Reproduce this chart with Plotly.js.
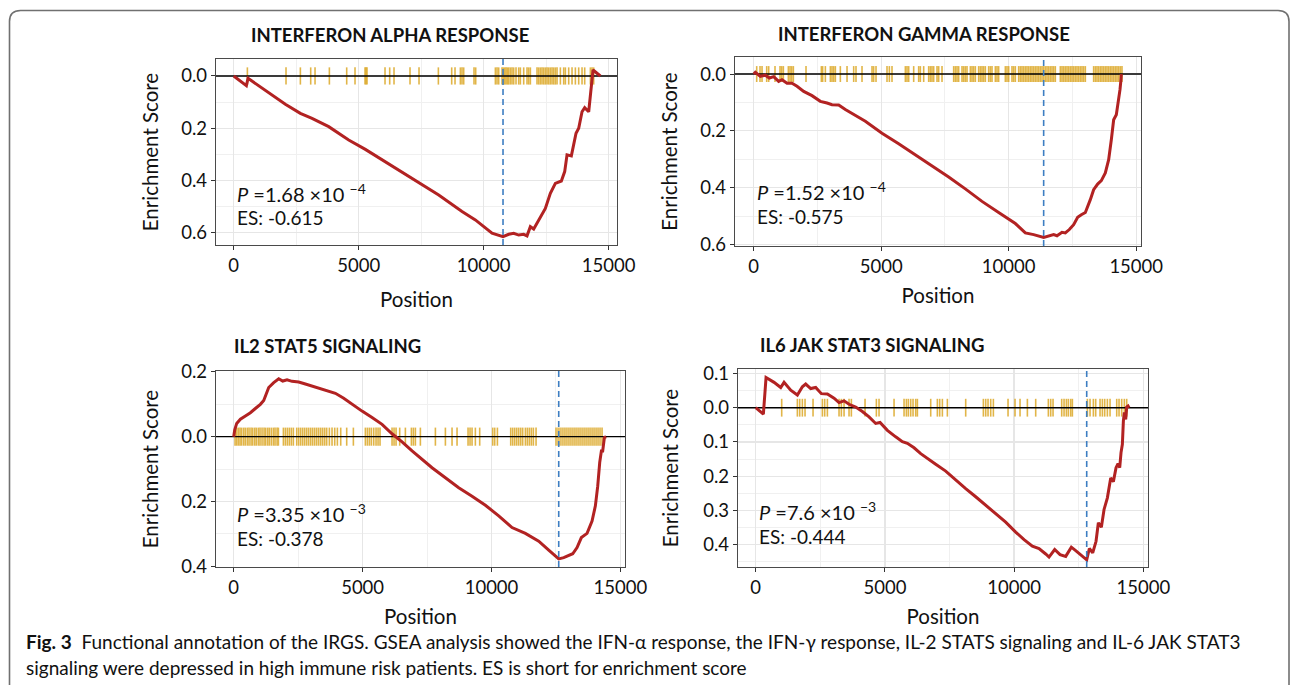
<!DOCTYPE html>
<html>
<head>
<meta charset="utf-8">
<script src="https://cdn.plot.ly/plotly-3.0.1.min.js"></script>
<style>
html,body{margin:0;padding:0;background:#ffffff;}
#chart{width:1290px;height:685px;}
</style>
</head>
<body>
<div id="chart"></div>
<script>
// ---------------- DATA ----------------
const panelTitles = ['INTERFERON ALPHA RESPONSE', 'INTERFERON GAMMA RESPONSE', 'IL2 STAT5 SIGNALING', 'IL6 JAK STAT3 SIGNALING'];
const pMantissa = ['1.68', '1.52', '3.35', '7.6'];
const pExponent = ['\u22124', '\u22124', '\u22123', '\u22123'];
const esLabels = ['-0.615', '-0.575', '-0.378', '-0.444'];

// Running enrichment score curves (position, ES)
const alphaPos = [0,507,573,2066,2666,3133,3800,4600,5266,6066,7133,8200,9133,9666,10333,10773,11000,11200,11400,11600,11733,11866,12000,12133,12266,12466,12666,12866,13106,13240,13333,13506,13693,13800,13933,14040,14200,14280,14333,14373,14666];
const alphaES = [0,-0.037,-0.009,-0.108,-0.143,-0.162,-0.194,-0.245,-0.281,-0.328,-0.392,-0.456,-0.519,-0.551,-0.602,-0.615,-0.606,-0.602,-0.609,-0.606,-0.612,-0.577,-0.586,-0.564,-0.539,-0.507,-0.449,-0.411,-0.402,-0.366,-0.302,-0.306,-0.219,-0.200,-0.137,-0.121,-0.137,-0.060,-0.003,0.023,0];

const gammaPos = [0,65,261,457,614,784,980,1111,1307,1503,1699,1961,2287,2614,2875,3071,3333,3594,4378,5032,5685,6339,6992,7646,8299,8953,9606,10260,10652,10979,11371,11567,11763,11894,12090,12220,12377,12547,12704,12848,13005,13201,13331,13488,13632,13789,13920,14024,14116,14220,14312,14364,14403,14416];
const gammaES = [0,0.006,-0.008,-0.004,-0.014,-0.009,-0.026,-0.020,-0.032,-0.032,-0.043,-0.061,-0.076,-0.096,-0.102,-0.108,-0.109,-0.125,-0.166,-0.208,-0.245,-0.284,-0.322,-0.362,-0.404,-0.448,-0.487,-0.526,-0.559,-0.565,-0.575,-0.571,-0.565,-0.569,-0.557,-0.559,-0.547,-0.530,-0.504,-0.495,-0.487,-0.442,-0.407,-0.387,-0.375,-0.348,-0.301,-0.231,-0.161,-0.143,-0.090,-0.055,-0.020,0];

const il2Pos = [0,39,116,259,453,647,840,1034,1164,1254,1358,1552,1746,1901,2069,2263,2521,2780,3039,3297,3620,3944,4267,4590,4978,5366,5754,6142,6530,6918,7305,7693,8211,8728,9245,9762,10279,10796,11314,11831,12219,12607,12801,12969,13150,13318,13486,13706,13900,14029,14120,14197,14262,14313,14378,14443];
const il2ES = [0,0.021,0.041,0.054,0.064,0.074,0.087,0.100,0.112,0.131,0.152,0.167,0.179,0.172,0.176,0.171,0.169,0.163,0.157,0.151,0.143,0.134,0.119,0.100,0.079,0.059,0.038,0.009,-0.016,-0.044,-0.070,-0.096,-0.127,-0.158,-0.184,-0.212,-0.245,-0.281,-0.299,-0.323,-0.351,-0.378,-0.374,-0.369,-0.362,-0.343,-0.312,-0.299,-0.261,-0.214,-0.153,-0.080,-0.044,-0.044,-0.003,0];

const il6Pos = [0,297,400,710,968,1097,1355,1613,1806,1935,2129,2322,2541,2774,3032,3225,3419,3612,3870,4128,4386,4644,4812,5096,5418,5676,5870,6128,6386,6644,6966,7353,7740,8127,8514,8901,9288,9675,10062,10385,10707,10965,11223,11352,11571,11778,11997,12216,12384,12578,12810,12913,13042,13171,13261,13377,13481,13610,13739,13842,13945,14022,14087,14138,14190,14229,14267,14319,14358,14409,14448];
const il6ES = [0,-0.019,0.088,0.074,0.059,0.074,0.051,0.037,0.061,0.069,0.056,0.059,0.041,0.040,0.028,0.015,0.020,0.010,0.002,-0.011,-0.027,-0.046,-0.043,-0.066,-0.085,-0.099,-0.104,-0.117,-0.134,-0.149,-0.165,-0.185,-0.211,-0.236,-0.260,-0.284,-0.310,-0.334,-0.363,-0.385,-0.404,-0.411,-0.427,-0.436,-0.414,-0.429,-0.434,-0.407,-0.417,-0.429,-0.444,-0.411,-0.424,-0.390,-0.336,-0.349,-0.297,-0.263,-0.205,-0.216,-0.175,-0.163,-0.175,-0.131,-0.107,-0.039,-0.014,-0.034,0.002,0.005,0];

// Gene-set hit positions (rug)
const alphaHits = [547,2093,2667,3080,3253,3827,4520,4853,5253,5293,5333,6053,6240,6413,7053,7413,8187,8720,8853,9067,9133,9200,9613,9680,10467,10533,10600,10733,10787,10840,10893,10947,11000,11067,11133,11200,11293,11400,11467,11600,11733,11800,11867,12133,12200,12267,12333,12400,12467,12533,12600,12667,12733,12800,12867,12933,13067,13200,13267,13400,13533,13667,13800,13933,14040,14267,14333,14400];

const gammaHits = [118,248,327,510,588,836,1033,1098,1163,1359,1425,1490,1555,2052,2653,2705,2810,3006,3071,3137,3202,3398,3660,3921,4012,4248,4640,4705,4797,5228,5320,5424,5947,6012,6078,6274,6470,6535,6666,6862,6927,6992,7058,7189,7254,7385,7842,7907,7973,8038,8169,8234,8299,8365,8496,8561,8626,8692,8822,8888,8953,9018,9084,9214,9280,9345,9476,9541,9606,9868,9933,9999,10129,10195,10260,10391,10456,10521,10587,10652,10717,10783,10848,10913,10979,11044,11110,11175,11240,11306,11371,11436,11502,11567,11632,11698,11763,11828,12024,12090,12155,12220,12286,12351,12416,12482,12547,12612,12678,12743,12809,12874,12939,13005,13331,13397,13462,13527,13593,13658,13724,13789,13854,13920,13985,14050,14116,14181,14246,14312,14377,14442];

const il2Hits = [52,116,181,246,310,388,453,530,595,672,737,815,879,957,1021,1099,1177,1241,1319,1384,1461,1539,1603,1681,1733,1927,2004,2082,2159,2237,2314,2444,2521,2599,2677,2754,2832,2909,2987,3064,3142,3220,3297,3375,3452,3530,3607,3711,3814,3918,4021,4151,4383,4642,5107,5185,5263,5340,5431,5521,5599,5676,6142,6219,6297,6439,6659,6892,6969,7047,7241,7823,8211,8469,8663,9090,9167,9245,9374,9542,10047,10124,10228,10745,10822,10900,10978,11055,11133,11210,11314,11391,11469,11546,11624,11728,12503,12581,12658,12736,12814,12891,12969,13046,13124,13202,13279,13357,13434,13512,13590,13667,13745,13822,13900,13977,14055,14132,14210,14288];

const il6Hits = [1006,1613,1703,1806,1909,2219,2580,2670,2774,3225,3315,3419,3612,3702,4231,4670,4773,5354,5741,5831,5908,5999,6089,6192,6257,6773,7031,7121,7224,7418,8127,8811,8901,8991,9095,9198,9765,10036,10230,10514,10836,11326,11417,11507,11842,11933,12023,12100,12191,12255,12836,12939,13068,13158,13326,13416,13506,13610,13713,13971,14061,14164,14267,14358];

// Axis ticks
const xTicks = [0, 5000, 10000, 15000];
const xTickLabels = ['0', '5000', '10000', '15000'];
const xMinorTicks = [2500, 7500, 12500];
const alphaYTicks = [0, -0.2, -0.4, -0.6];
const alphaYLabels = ['0.0', '0.2', '0.4', '0.6'];
const alphaYMinor = [-0.1, -0.3, -0.5];
const gammaYTicks = [0, -0.2, -0.4, -0.6];
const gammaYLabels = ['0.0', '0.2', '0.4', '0.6'];
const gammaYMinor = [-0.1, -0.3, -0.5];
const il2YTicks = [0.2, 0, -0.2, -0.4];
const il2YLabels = ['0.2', '0.0', '0.2', '0.4'];
const il2YMinor = [0.1, -0.1, -0.3];
const il6YTicks = [0.1, 0, -0.1, -0.2, -0.3, -0.4];
const il6YLabels = ['0.1', '0.0', '0.1', '0.2', '0.3', '0.4'];
const il6YMinor = [0.05, -0.05, -0.15, -0.25, -0.35, -0.45];

const caption1 = '<b>Fig. 3</b>  Functional annotation of the IRGS. GSEA analysis showed the IFN-\u03b1 response, the IFN-\u03b3 response, IL-2 STATS signaling and IL-6 JAK STAT3';
const caption2 = 'signaling were depressed in high immune risk patients. ES is short for enrichment score';

// ---------------- STYLE / LAYOUT ----------------
const W = 1290, H = 685;
const FONT = 'Lato, "Open Sans", sans-serif';
const RUG = 'rgba(218,165,32,0.82)';
const CURVE = '#B22222';
const DASH = '#3D7EC2';

const series = [
  {pos: alphaPos, es: alphaES, hits: alphaHits, yt: alphaYTicks, yl: alphaYLabels, ym: alphaYMinor},
  {pos: gammaPos, es: gammaES, hits: gammaHits, yt: gammaYTicks, yl: gammaYLabels, ym: gammaYMinor},
  {pos: il2Pos, es: il2ES, hits: il2Hits, yt: il2YTicks, yl: il2YLabels, ym: il2YMinor},
  {pos: il6Pos, es: il6ES, hits: il6Hits, yt: il6YTicks, yl: il6YLabels, ym: il6YMinor}
];

// pixel-based panel geometry
const geom = [
  {dx: [216, 617], dy: [59, 245], xr: [-708, 15332], yr: [-0.647, 0.065], rug: 0.033, tt: [389.7, 35], pl: [234.7, 193], el: [234.7, 217.5], xs: 17, ys: 17},
  {dx: [735, 1141], dy: [57, 246], xr: [-733, 15188], yr: [-0.605, 0.060], rug: 0.028, tt: [923.8, 34], pl: [754.7, 191.3], el: [754.7, 216.7], xs: 12, ys: 17},
  {dx: [216, 625], dy: [371, 567], xr: [-687, 15178], yr: [-0.403, 0.203], rug: 0.028, tt: [327, 345.5], pl: [234.7, 512.7], el: [234.7, 538.5], xs: 12, ys: 17},
  {dx: [738, 1148], dy: [369, 567], xr: [-685, 15182], yr: [-0.465, 0.113], rug: 0.026, tt: [872, 345], pl: [756.7, 510.7], el: [756.7, 536.5], xs: 12, ys: 19}
];

const px = v => v / W;
const py = v => 1 - v / H;

const traces = [];
const shapes = [];
const annotations = [];
const layout = {
  width: W, height: H,
  margin: {l: 0, r: 0, t: 0, b: 0},
  paper_bgcolor: '#ffffff', plot_bgcolor: '#ffffff',
  showlegend: false,
  font: {family: FONT, color: '#111111'},
  shapes: shapes, annotations: annotations
};

series.forEach((s, i) => {
  const g = geom[i];
  const sx = i === 0 ? '' : String(i + 1);
  const xa = 'x' + sx, ya = 'y' + sx;

  const rx = [], ry = [];
  s.hits.forEach(h => { rx.push(h, h, null); ry.push(-g.rug, g.rug, null); });
  traces.push({type: 'scatter', mode: 'lines', x: rx, y: ry, xaxis: xa, yaxis: ya,
    line: {color: RUG, width: 1.6}, hoverinfo: 'skip', connectgaps: false});
  traces.push({type: 'scatter', mode: 'lines', x: g.xr, y: [0, 0], xaxis: xa, yaxis: ya,
    line: {color: '#000000', width: 1.4}, hoverinfo: 'skip'});
  traces.push({type: 'scatter', mode: 'lines', x: s.pos, y: s.es, xaxis: xa, yaxis: ya,
    line: {color: CURVE, width: 3}, hoverinfo: 'x+y'});

  let mi = 0;
  s.es.forEach((v, k) => { if (v < s.es[mi]) mi = k; });
  shapes.push({type: 'line', xref: xa, yref: ya + ' domain', x0: s.pos[mi], x1: s.pos[mi], y0: 0, y1: 1,
    line: {color: DASH, width: 1.6, dash: '6px,4px'}, layer: 'above'});

  const axisCommon = {
    showline: true, mirror: true, linecolor: '#4a4a4a', linewidth: 1.2,
    ticks: 'outside', ticklen: 4, tickwidth: 1, tickcolor: '#333333',
    showgrid: true, gridcolor: '#E6E6E6', gridwidth: 1.2, zeroline: false,
    tickfont: {family: FONT, size: 18.5, color: '#111111'},
    fixedrange: true, automargin: false
  };
  layout['xaxis' + sx] = Object.assign({}, axisCommon, {
    domain: [px(g.dx[0]), px(g.dx[1])], range: g.xr, anchor: ya,
    tickmode: 'array', tickvals: xTicks, ticktext: xTickLabels,
    minor: {tickmode: 'array', tickvals: xMinorTicks, showgrid: true, gridcolor: '#F0F0F0', gridwidth: 1, ticks: ''},
    title: {text: 'Position', font: {family: FONT, size: 20.5, color: '#111111'}, standoff: g.xs}
  });
  layout['yaxis' + sx] = Object.assign({}, axisCommon, {
    domain: [py(g.dy[1]), py(g.dy[0])], range: g.yr, anchor: xa,
    tickmode: 'array', tickvals: s.yt, ticktext: s.yl,
    minor: {tickmode: 'array', tickvals: s.ym, showgrid: true, gridcolor: '#F0F0F0', gridwidth: 1, ticks: ''},
    title: {text: 'Enrichment Score', font: {family: FONT, size: 20.5, color: '#111111'}, standoff: g.ys}
  });

  annotations.push({xref: 'paper', yref: 'paper', x: px(g.tt[0]), y: py(g.tt[1]), xanchor: 'center', yanchor: 'middle',
    text: panelTitles[i], showarrow: false, font: {family: FONT, size: 18.5, color: '#111111', weight: 700}});
  annotations.push({xref: 'paper', yref: 'paper', x: px(g.pl[0]), y: py(g.pl[1]), xanchor: 'left', yanchor: 'middle',
    text: '<i>P</i> =' + pMantissa[i] + ' \u00d710 <sup>' + pExponent[i] + '</sup>', showarrow: false,
    font: {family: FONT, size: 20, color: '#111111'}});
  annotations.push({xref: 'paper', yref: 'paper', x: px(g.el[0]), y: py(g.el[1]), xanchor: 'left', yanchor: 'middle',
    text: 'ES: ' + esLabels[i], showarrow: false, font: {family: FONT, size: 19, color: '#111111'}});
});

annotations.push({xref: 'paper', yref: 'paper', x: px(24), y: py(641), xanchor: 'left', yanchor: 'middle',
  text: caption1, showarrow: false, font: {family: FONT, size: 19, color: '#111111'}});
annotations.push({xref: 'paper', yref: 'paper', x: px(24), y: py(667), xanchor: 'left', yanchor: 'middle',
  text: caption2, showarrow: false, font: {family: FONT, size: 19, color: '#111111'}});

// outer rounded frame
const fr = {l: 9.5, t: 10.5, r: 1289, b: 692, rad: 11};
shapes.push({type: 'path', xref: 'paper', yref: 'paper', layer: 'above',
  path: 'M ' + px(fr.l) + ',' + py(fr.b) + ' V ' + py(fr.t + fr.rad) +
        ' Q ' + px(fr.l) + ',' + py(fr.t) + ' ' + px(fr.l + fr.rad) + ',' + py(fr.t) +
        ' H ' + px(fr.r - fr.rad) +
        ' Q ' + px(fr.r) + ',' + py(fr.t) + ' ' + px(fr.r) + ',' + py(fr.t + fr.rad) +
        ' V ' + py(fr.b),
  line: {color: '#707070', width: 1.6}});

Plotly.newPlot('chart', traces, layout, {displayModeBar: false, staticPlot: true});
</script>
</body>
</html>
